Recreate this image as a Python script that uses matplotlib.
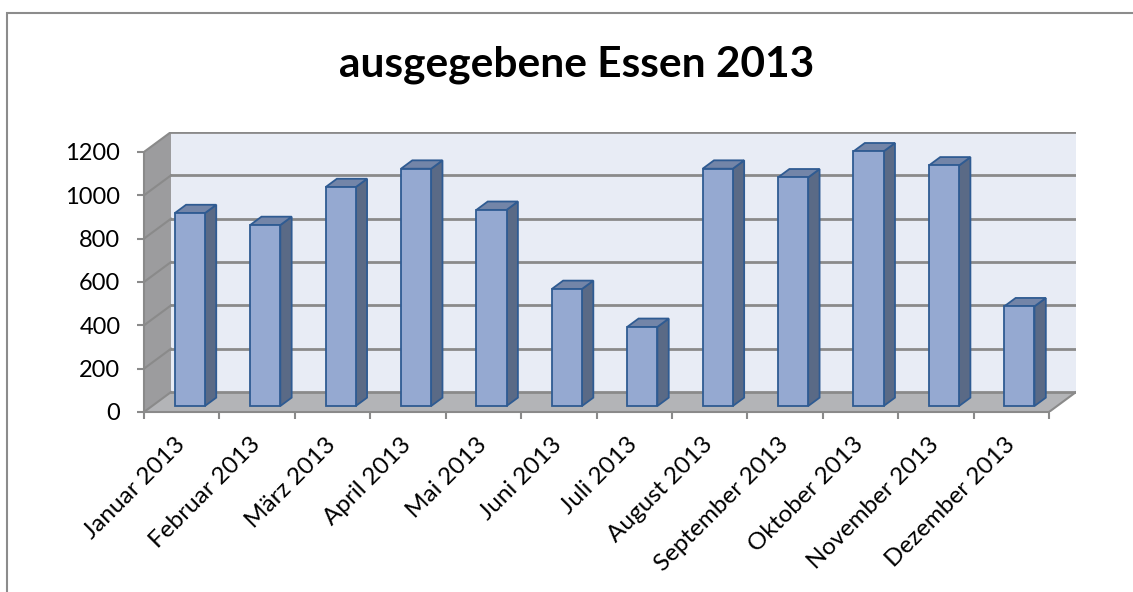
import numpy as np
import matplotlib.pyplot as plt
from matplotlib.patches import Polygon, Rectangle

plt.rcParams['font.family'] = ['Lato', 'DejaVu Sans']

# values
months = ['Januar 2013', 'Februar 2013', 'März 2013', 'April 2013', 'Mai 2013',
          'Juni 2013', 'Juli 2013', 'August 2013', 'September 2013',
          'Oktober 2013', 'November 2013', 'Dezember 2013']
meals = [890, 835, 1010, 1095, 905, 540, 365, 1095, 1055, 1175, 1110, 460]
y_ticks = [0, 200, 400, 600, 800, 1000, 1200]

# fake 3d depth (in data units)
dx_full = 0.358
dy_full = 92
f0, f1 = 0.3, 0.72
bar_w = 0.40

wall_col = '#e8ecf5'
side_wall_col = '#9c9c9e'
floor_col = '#b3b4b7'
grid_col = '#8a8a8a'
front_col = '#95a9d1'
side_col = '#5a6a86'
top_col = '#7385a8'
edge_col = '#2f5b92'

fig = plt.figure(figsize=(11.33, 5.92), dpi=100)
W, H = 1133, 592

# outer chart border
fig.patches.append(Rectangle((7 / W, -0.05), 1.2, 1 - 13 / H + 0.05, transform=fig.transFigure,
                             fill=False, edgecolor='#8c8c8c', linewidth=1.5, zorder=0))

ax = fig.add_axes([144 / W, (H - 412) / H, (1076 - 144) / W, (412 - 132) / H])
n = len(months)
ax.set_xlim(-0.5, n - 0.5 + dx_full)
ax.set_ylim(0, 1200 + dy_full)
ax.patch.set_visible(False)

x0, x1 = -0.5, n - 0.5
# back wall
ax.add_patch(Rectangle((x0 + dx_full, dy_full), n, 1200, facecolor=wall_col,
                       edgecolor='none', zorder=1))
# left wall
ax.add_patch(Polygon([(x0, 0), (x0 + dx_full, dy_full), (x0 + dx_full, 1200 + dy_full), (x0, 1200)],
                     facecolor=side_wall_col, edgecolor='none', zorder=1))
# floor
ax.add_patch(Polygon([(x0, 0), (x1, 0), (x1 + dx_full, dy_full), (x0 + dx_full, dy_full)],
                     facecolor=floor_col, edgecolor='none', zorder=1))

# gridlines on back and side wall
for v in y_ticks:
    ax.plot([x0 + dx_full, x1 + dx_full], [v + dy_full, v + dy_full], color=grid_col, lw=2, zorder=2)
    ax.plot([x0, x0 + dx_full], [v, v + dy_full], color=grid_col, lw=1.5, zorder=2)
ax.plot([x1, x1 + dx_full], [0, dy_full], color=grid_col, lw=1.5, zorder=2)

# bars
for i, v in enumerate(meals):
    xl = i - bar_w / 2 + f0 * dx_full
    xr = xl + bar_w
    yb = f0 * dy_full
    ddx = (f1 - f0) * dx_full
    ddy = (f1 - f0) * dy_full
    ax.add_patch(Polygon([(xr, yb), (xr + ddx, yb + ddy), (xr + ddx, v + yb + ddy), (xr, v + yb)],
                         facecolor=side_col, edgecolor=edge_col, lw=1.3, zorder=3))
    ax.add_patch(Polygon([(xl, v + yb), (xr, v + yb), (xr + ddx, v + yb + ddy), (xl + ddx, v + yb + ddy)],
                         facecolor=top_col, edgecolor=edge_col, lw=1.3, zorder=3))
    ax.add_patch(Rectangle((xl, yb), bar_w, v, facecolor=front_col, edgecolor=edge_col,
                           lw=1.3, zorder=4))

for s in ['top', 'right']:
    ax.spines[s].set_visible(False)
ax.spines['left'].set_bounds(0, 1200)
ax.spines['bottom'].set_bounds(x0, x1)
for s in ['left', 'bottom']:
    ax.spines[s].set_color(grid_col)
    ax.spines[s].set_linewidth(1.5)
    ax.spines[s].set_zorder(5)

ax.set_yticks(y_ticks)
ax.set_yticklabels([str(t) for t in y_ticks], fontsize=17)
ax.tick_params(axis='y', length=5, width=1.5, color=grid_col, pad=12)

ax.set_xticks(np.arange(n))
ax.set_xticklabels(months, fontsize=17.5, rotation=45, ha='right', va='center',
                   rotation_mode='anchor')
ax.set_xticks(np.arange(n + 1) - 0.5, minor=True)
ax.tick_params(axis='x', which='major', length=0, pad=21)
ax.tick_params(axis='x', which='minor', length=5, width=1.5, color=grid_col)

fig.text(577 / W, 1 - 77 / H, 'ausgegebene Essen 2013', ha='center', va='baseline',
         fontsize=30.5, fontweight='bold')

fig.savefig('out.png', dpi=100)
